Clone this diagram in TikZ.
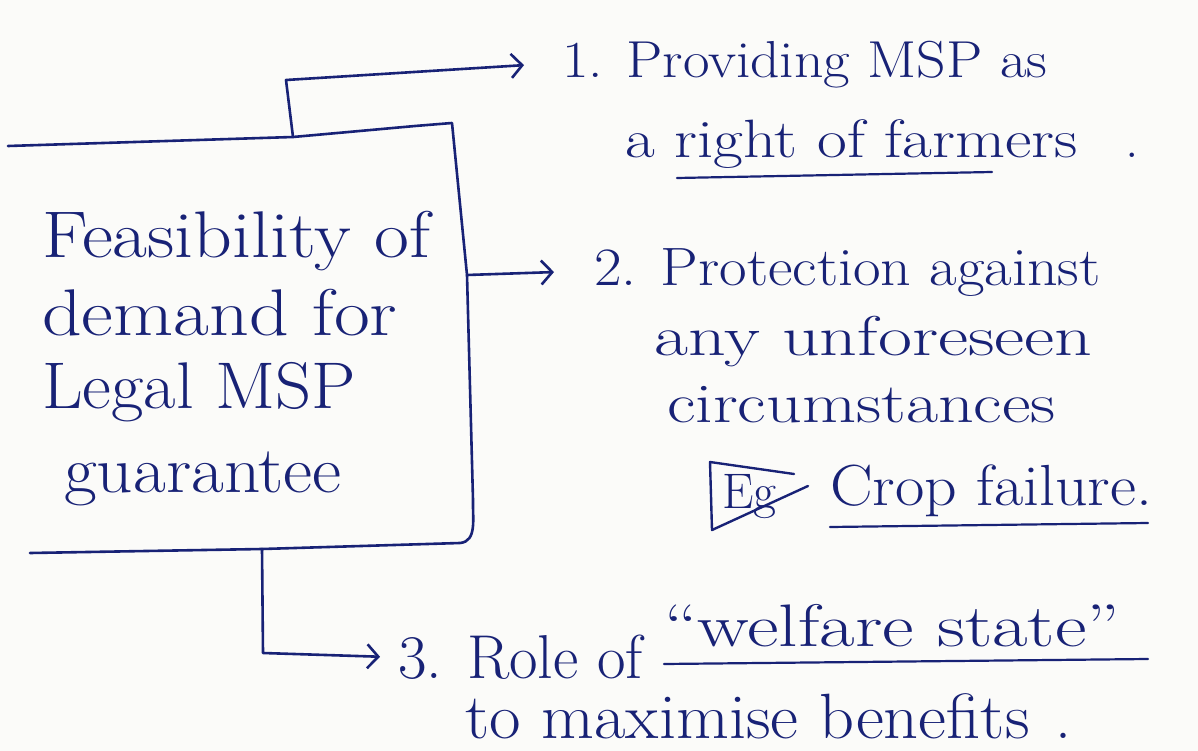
\documentclass[tikz,border=0pt]{standalone}
\usetikzlibrary{arrows.meta}
\definecolor{ink}{RGB}{24,34,118}
\definecolor{paper}{RGB}{251,251,249}
\tikzset{
  inkline/.style={draw=ink, line width=2.6pt, line cap=round, line join=round},
  conn/.style={inkline, -{Straight Barb[length=11pt,width=24pt,line width=2.6pt]}},
  uline/.style={draw=ink, line width=2.2pt, line cap=round},
  hw/.style={text=ink, inner sep=0pt, anchor=base west},
  fbox/.style={hw, font=\fontsize{66}{66}\selectfont},
}
\newcommand{\fs}[1]{\fontsize{#1}{#1}\selectfont}
\newcommand{\hs}[2]{\scalebox{#1}[1]{#2}}
\begin{document}
\begin{tikzpicture}[x=1pt,y=-1pt]
\fill[paper] (0,0) rectangle (1198,751);
\useasboundingbox (0,0) rectangle (1198,751);

% box outline (open on the left)
\coordinate (tl) at (8,146);
\coordinate (tm) at (293,137);
\coordinate (tr) at (452,123);
\coordinate (rm) at (467,275);
\coordinate (rb) at (473,500);
\coordinate (br) at (460,543);
\coordinate (bm) at (262,549);
\coordinate (bl) at (30,553);
\draw[inkline] (tl) -- (tm) -- (415,126) -- (tr) -- (rm) -- (rb)
  to[out=-92,in=5] (br) -- (bm) -- (bl);

% box text
\node[fbox] (b1) at (42,258) {\hs{1.15}{Feasibility of}};
\node[fbox] (b2) at (42,335) {\hs{1.18}{demand for}};
\node[fbox] (b3) at (42,408) {\hs{1.07}{Legal MSP}};
\node[fbox] (b4) at (64,492) {\hs{1.08}{guarantee}};

% point 1
\node[hw, font=\fs{52}] (t1) at (562,78) {\hs{1.11}{1. Providing MSP as}};
\node[hw, font=\fs{54}] (t1b) at (625,158) {\hs{1.2}{a right of farmers}\kern48pt.};
\draw[uline] (677,178) -- (992,172);

% point 2
\node[hw, font=\fs{54}] (t2) at (594,285) {\hs{1.11}{2. Protection against}};
\node[hw, font=\fs{56}] (t2b) at (654,355) {\hs{1.32}{any unforeseen}};
\node[hw, font=\fs{56}] (t2c) at (667,422) {\hs{1.25}{circumstances}};
\draw[inkline, line width=2.4pt] (794,474) -- (710,462) -- (712,530) -- (808,486);
\node[hw, font=\fs{50}] (eg) at (722,508) {Eg};
\node[hw, font=\fs{58}] (t2d) at (830,505) {\hs{1.1}{Crop failure.}};
\draw[uline] (830,527) -- (1148,523);

% point 3
\node[hw, font=\fs{62}] (t3) at (398,678) {3. Role of};
\node[hw, font=\fs{60}] (t3q) at (664,646) {\hs{1.29}{``welfare state''}};
\draw[uline] (664,664) -- (1148,659);
\node[hw, font=\fs{64}] (t3b) at (465,738) {\hs{1.07}{to maximise benefits}\kern26pt.};

% connectors
\coordinate (k1) at (286,80);
\coordinate (k3) at (263,653);
\draw[conn] (tm) -- (k1) -- ([xshift=-38pt]t1.west);
\draw[conn] (rm) -- ([xshift=-40pt]t2.west);
\draw[conn] (bm) -- (k3) -- ([xshift=-18pt]t3.west);
\end{tikzpicture}
\end{document}
